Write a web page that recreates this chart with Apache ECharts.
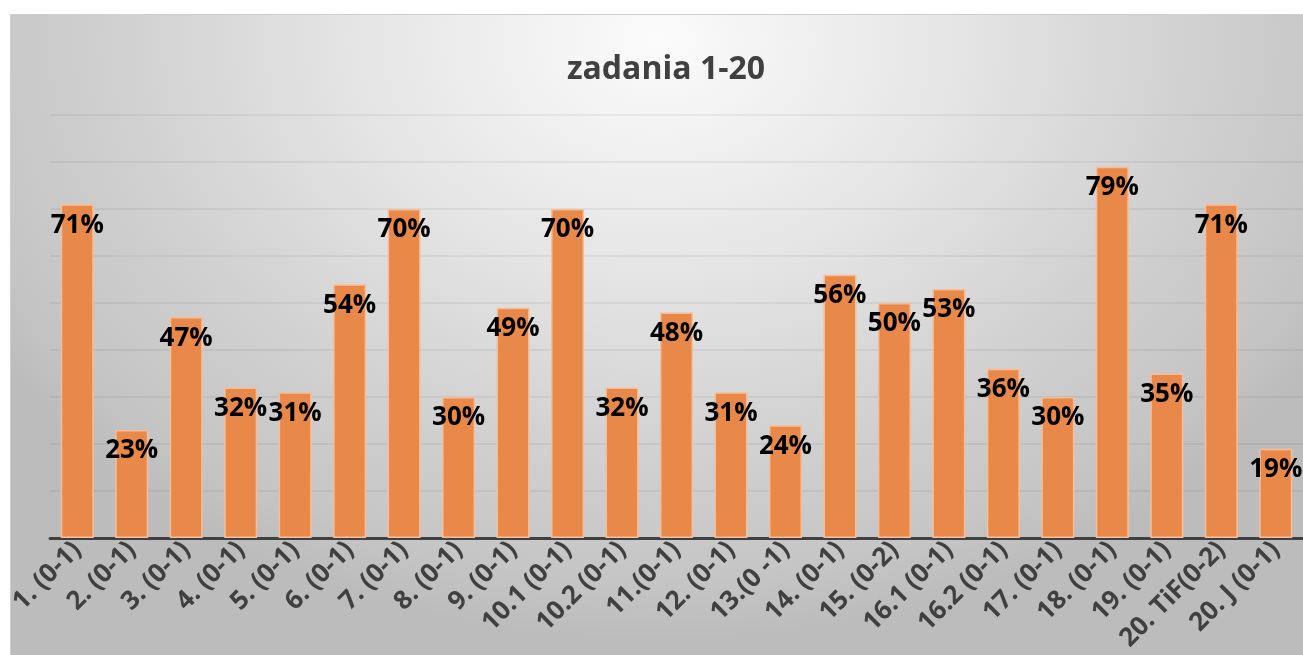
<!DOCTYPE html>
<html><head><meta charset="utf-8">
<script src="https://cdn.jsdelivr.net/npm/echarts@6/dist/echarts.min.js"></script>
<style>
html,body{margin:0;padding:0;background:#fff;}
#wrap{position:relative;width:1303px;height:655px;overflow:hidden;}
#bg{position:absolute;left:10px;top:14px;width:1293px;height:641px;box-sizing:border-box;border-top:1px solid #cfcfcf;border-left:1px solid #cfcfcf;
background:radial-gradient(ellipse 780px 600px at 646px 26px,#fbfbfb 0%,#e4e4e4 40%,#d0d0d0 70%,#c5c5c5 90%,#bcbcbc 100%);}
#c{position:absolute;left:0;top:0;width:1303px;height:655px;}
</style>
</head><body><div id="wrap"><div id="bg"></div><div id="c"></div></div>
<script>
const title = 'zadania 1-20';
const categories = ['1. (0-1)','2. (0-1)','3. (0-1)','4. (0-1)','5. (0-1)','6. (0-1)','7. (0-1)','8. (0-1)','9. (0-1)','10.1 (0-1)','10.2 (0-1)','11.(0-1)','12. (0-1)','13.(0 -1)','14. (0-1)','15. (0-2)','16.1 (0-1)','16.2 (0-1)','17. (0-1)','18. (0-1)','19. (0-1)','20. TiF(0-2)','20. J (0-1)'];
const values = [71,23,47,32,31,54,70,30,49,70,32,48,31,24,56,50,53,36,30,79,35,71,19];

const chart = echarts.init(document.getElementById('c'), null, {renderer:'canvas'});
chart.setOption({
  animation:false,
  backgroundColor:'transparent',
  title:{text:title,left:661,textAlign:'center',top:49,textStyle:{fontFamily:'Open Sans',fontWeight:'bold',fontSize:32,color:'#404040'}},
  grid:{left:50,right:-1,top:115,bottom:117,containLabel:false},
  xAxis:{type:'category',data:categories,
    axisTick:{show:false},
    axisLine:{lineStyle:{color:'#404040',width:3}},
    axisLabel:{rotate:45,interval:0,margin:8,fontFamily:'Open Sans',fontWeight:'bold',fontSize:26,color:'#404040'}},
  yAxis:{type:'value',min:0,max:90,interval:10,
    axisLabel:{show:false},axisLine:{show:false},axisTick:{show:false},
    splitLine:{lineStyle:{color:'rgba(0,0,0,0.05)',width:2}}},
  series:[{type:'bar',data:values,barWidth:33,z:3,
    itemStyle:{color:'#E8894A',borderColor:'#F6BE98',borderWidth:1.5},
    label:{show:true,position:'insideTop',distance:8,formatter:'{c}%',fontFamily:'Open Sans',fontWeight:'bold',fontSize:26,color:'#000'}
  }]
});
</script></body></html>
